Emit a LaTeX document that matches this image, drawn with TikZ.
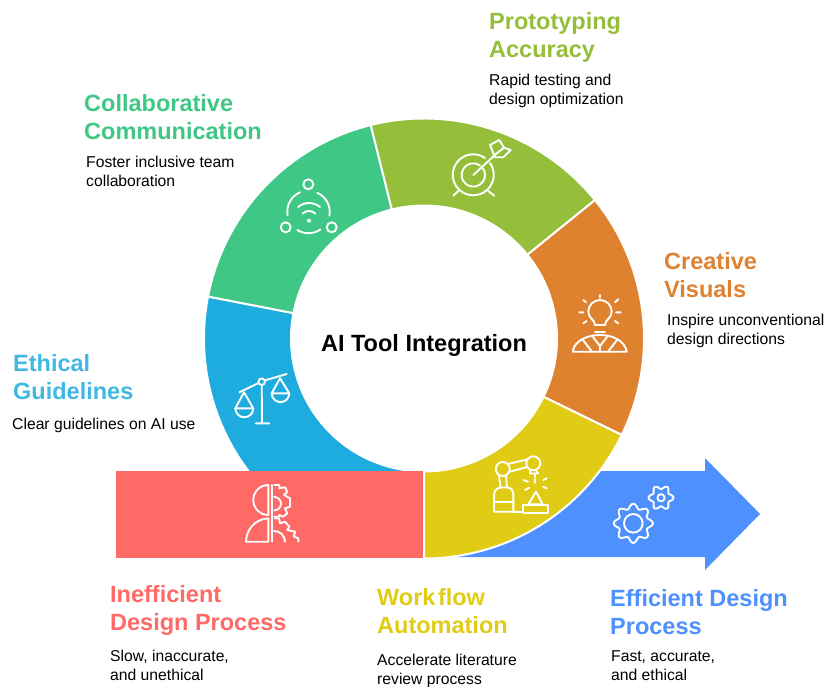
\documentclass[tikz,border=0pt]{standalone}
\usepackage{fontspec}
\setmainfont{Liberation Sans}
\definecolor{cred}{HTML}{FF6966}
\definecolor{cyel}{HTML}{E0CC14}
\definecolor{cora}{HTML}{DF8230}
\definecolor{coli}{HTML}{95BF3A}
\definecolor{cgre}{HTML}{3EC785}
\definecolor{cblu}{HTML}{1EABDD}
\definecolor{carr}{HTML}{4D90FE}
\tikzset{
  icon/.style={draw=white,line width=1.9pt,line cap=round,line join=round},
  ringseg/.style={draw=white,line width=2pt,line join=miter},
  titletext/.style={anchor=north west,inner sep=0pt,align=left,font=\bfseries\fontsize{23.5}{28.4}\selectfont,execute at begin node=\rule{0pt}{20pt}},
  bodytext/.style={anchor=north west,inner sep=0pt,align=left,text=black,font=\fontsize{15.7}{19.3}\selectfont,execute at begin node=\rule{0pt}{13pt}},
}
\newcommand{\ringpart}[3]{\path[ringseg,fill=#1] (#2:220) arc[start angle=#2,end angle=#3,radius=220] -- (#3:133) arc[start angle=#3,end angle=#2,radius=133] -- cycle;}
\newcommand{\gearpath}[5]{\draw[icon] plot[domain=0:360,samples=109,smooth] ({#1+(#3+#4*cos(#5*\x))*cos(\x)},{#2+(#3+#4*cos(#5*\x))*sin(\x)}) -- cycle;}
\begin{document}
\begin{tikzpicture}[x=1pt,y=-1pt]
\useasboundingbox (0,0) rectangle (832,687);
% arrow
\fill[carr] (450,471) -- (705,471) -- (705,458) -- (760,514) -- (705,570) -- (705,557) -- (450,557) -- cycle;
% ring
\begin{scope}[shift={(424,338.5)}]
\ringpart{cblu}{95}{191}
\ringpart{cgre}{-169}{-104}
\ringpart{coli}{-104}{-39}
\ringpart{cora}{-39}{26}
\ringpart{cyel}{26}{90}
\end{scope}
% red bar
\fill[cred] (116,470.5) rectangle (423,557.5);
% center
\node[inner sep=0pt,font=\bfseries\fontsize{23.5}{28}\selectfont] (center) at (424,345) {AI Tool Integration};
% titles
\node[titletext,text=cgre] (t1) at (84,94) {Collaborative\\Communication};
\node[titletext,text=coli] (t2) at (489,12) {Prototyping\\Accuracy};
\node[titletext,text=cora] (t3) at (664,252) {Creative\\Visuals};
\node[titletext,text=cblu!85!white] (t4) at (13,354) {Ethical\\Guidelines};
\node[titletext,text=cred] (t5) at (110,585) {Inefficient\\Design Process};
\node[titletext,text=cyel] (t6) at (377,588) {{\spaceskip=2.5pt Work flow}\\Automation};
\node[titletext,text=carr] (t7) at (610,589) {Efficient Design\\Process};
% bodies
\node[bodytext] (b1) at (86,156) {Foster inclusive team\\collaboration};
\node[bodytext] (b2) at (489,74) {Rapid testing and\\design optimization};
\node[bodytext] (b3) at (667,314) {Inspire unconventional\\design directions};
\node[bodytext] (b4) at (12,416) {Clear guidelines on AI use};
\node[bodytext] (b5) at (110,650) {Slow, inaccurate,\\and unethical};
\node[bodytext] (b6) at (377,654) {Accelerate literature\\review process};
\node[bodytext] (b7) at (611,650) {Fast, accurate,\\and ethical};
% scales
\draw[icon] (261.7,381.7) circle (3.3);
\draw[icon] (239.3,392.3) -- (258.6,383) (264.8,380.4) -- (286.7,374);
\draw[icon] (261.7,385) -- (262,423.3) (255.7,423.3) -- (269.3,423.3);
\draw[icon] (235.3,408.3) -- (244,392.3) -- (253.3,408.3) -- cycle;
\draw[icon] (253.3,408.3) arc[start angle=0,end angle=180,radius=9];
\draw[icon] (271.7,393.3) -- (280,378.3) -- (289.3,393.3) -- cycle;
\draw[icon] (289.3,393.3) arc[start angle=0,end angle=180,radius=8.8];
% team wifi
\draw[icon] (308.3,184.3) circle (5) (285.7,227.3) circle (5) (331.7,227.3) circle (5);
\draw[icon] (300,192.3) arc[start angle=246.7,end angle=170,radius=21];
\draw[icon] (317.3,192.8) arc[start angle=-66,end angle=10,radius=21];
\draw[icon] (297.3,230) arc[start angle=122,end angle=55,radius=21];
\fill[white] (309,220.7) circle (2);
\draw[icon] (298.1,207) arc[start angle=-130,end angle=-50,radius=17];
\draw[icon] (302.6,213.6) arc[start angle=-135,end angle=-45,radius=9];
% target
\draw[icon] (485,158) arc[start angle=-55,end angle=-395,radius=20.5];
\draw[icon] (480,165.4) arc[start angle=-55,end angle=-395,radius=11.7];
\draw[icon] (473.3,175) -- (496,154);
\draw[icon] (490,145) -- (499.3,140) -- (504,147.7) -- (510.7,150) -- (503.3,157.3) -- (495,157.3) -- (490,145);
\draw[icon] (496,154) -- (504,147.7);
\draw[icon] (458.3,191) -- (453.3,195.7) (488.3,191) -- (494.3,195.7);
% bulb
\draw[icon] (595,325) .. controls (595,320) and (588.3,318) .. (588.3,311.7) arc[start angle=180,end angle=360,radius=11.7] .. controls (611.7,318) and (605,320) .. (605,325) -- cycle;
\draw[icon] (595,331.7) -- (605,331.7);
\draw[icon] (600,295) -- (600,297.7) (583.3,300) -- (586,302.3) (615,302.3) -- (618.3,299.3) (579.3,312.3) -- (583.3,312.3) (616,312.3) -- (620.7,312.3) (583.3,323.3) -- (586.7,321) (615,321) -- (618.3,323.3);
\draw[icon] (572.7,351.7) .. controls (574,341) and (587,335) .. (600,335) .. controls (613,335) and (625,341) .. (626.7,351.7) -- cycle;
\draw[icon] (583,340) -- (592,351.7) (617,340) -- (608,351.7) (593,337) -- (600,346) -- (607,337) (600,346) -- (600,351.7);
% robot
\draw[icon] (494,511.7) -- (494,495) .. controls (494,489) and (499,487.5) .. (501,487.5) -- (507,487.5) .. controls (511,487.5) and (513.3,490) .. (513.3,495) -- (513.3,511.7) -- cycle;
\draw[icon] (494,501.7) -- (513.3,501.7) (513.3,511.7) -- (523.3,511.7);
\draw[icon] (499,475.5) -- (500.5,487.5) (506,475.5) -- (507,487.5);
\draw[icon] (502.7,469) circle (7) (533.3,463.3) circle (7);
\draw[icon] (508,464) -- (527,459.5) (509,472) -- (527,467);
\draw[icon] (530,471) -- (530,473.5) -- (538,473.5) -- (536.5,471) (535,473.5) -- (535,477);
\draw[icon] (523.5,480) -- (528,481.7) (543.3,480) -- (546.7,478.3) (525,490) -- (529.3,487.7) (543.3,486.7) -- (546.7,488.3) (535,479) -- (535,483);
\draw[icon] (536,491.7) -- (528.3,504.3) -- (542.7,504.3) -- cycle;
\draw[icon] (523.3,505) rectangle (548.3,512.7);
% gears
\gearpath{633.3}{523.3}{17.2}{2.4}{8}
\draw[icon] (633.3,523.3) circle (9.3);
\gearpath{661}{497.7}{10.5}{1.9}{6}
\draw[icon] (661,497.7) circle (3.6);
% head & gear
\draw[icon] (271.7,485) -- (271.7,541.7);
\draw[icon] (268.3,485) arc[start angle=-90,end angle=-270,radius=15] -- cycle;
\draw[icon] (268.3,518.3) .. controls (255,519) and (246,530) .. (246,541.7) -- (268.3,541.7) -- cycle;
\draw[icon] (274.3,485) -- (279.3,485) -- (279.3,488.3) -- (285,487.3) -- (287.3,491.7) -- (284,495) -- (290,498.3) -- (290,506.7) -- (285,508.3) -- (287.3,513.3) -- (283.3,516.7) -- (279.3,515) -- (279.3,516.7) -- (274.3,516.7);
\draw[icon] (274.3,497) arc[start angle=-90,end angle=90,radius=6.7];
\draw[icon] (275,518.3) -- (279,518.3) -- (280,523.3) -- (285,521.7) -- (289.3,526.7) -- (287.3,530) -- (295,531.7) -- (294,536.7) -- (298.3,538.3) -- (298.3,541.7);
\draw[icon] (274,531) .. controls (280,531) and (285,535.5) .. (285,541.7);
\end{tikzpicture}
\end{document}
